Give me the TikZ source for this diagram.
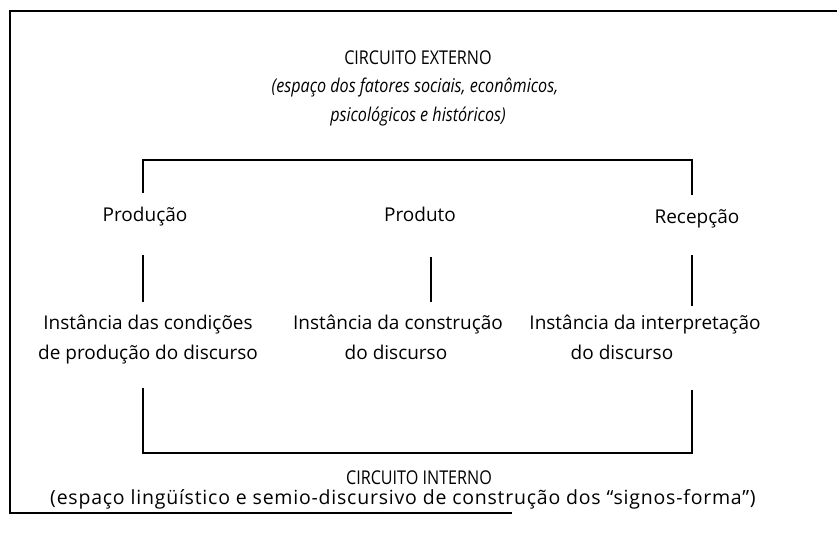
\documentclass[tikz,border=0pt]{standalone}
\usepackage{fontspec}
\setmainfont{Open Sans}
\begin{document}
\begin{tikzpicture}[x=1pt,y=-1pt,
  lbl/.style={font=\fontsize{19}{30}\selectfont, inner sep=0pt, anchor=base},
  caps/.style={lbl, font=\fontsize{19}{30}\selectfont\addfontfeature{FakeStretch=0.85}},
  ital/.style={lbl, font=\fontsize{19}{29}\selectfont\itshape\addfontfeature{FakeStretch=0.85}},
  ln/.style={line width=1.3pt}]
\useasboundingbox (0,0) rectangle (837,534);
% outer frame
\coordinate (otl) at (10,11);
\coordinate (otr) at (837,11);
\coordinate (obl) at (10,513);
\coordinate (obr) at (512,513);
\draw[ln] (otr) -- (otl) -- (obl) -- (obr);
% texts
\node[caps] (ext) at (418,65) {CIRCUITO EXTERNO};
\node[ital] (extsub1) at (415,93) {(espaço dos fatores sociais, econômicos,};
\node[ital] (extsub2) at (418,122) {psicológicos e históricos)};
\node[lbl] (prod) at (145,222) {Produção};
\node[lbl] (produto) at (420,222) {Produto};
\node[lbl] (rec) at (697,224) {Recepção};
\node[lbl] (i1a) at (148,329) {Instância das condições};
\node[lbl] (i1b) at (148,359) {de produção do discurso};
\node[lbl] (i2a) at (398,329) {Instância da construção};
\node[lbl] (i2b) at (396,359) {do discurso};
\node[lbl] (i3a) at (645,329) {Instância da interpretação};
\node[lbl] (i3b) at (622,359) {do discurso};
\node[caps] (int) at (419,484) {CIRCUITO INTERNO};
\node[lbl,font=\fontsize{19.5}{30}\selectfont\addfontfeature{LetterSpace=4}] (intsub) at (403,504) {(espaço lingüístico e semio-discursivo de construção dos “signos-forma”)};
% inner circuit
\coordinate (a1) at (143,193);
\coordinate (a0) at (143,160);
\coordinate (b0) at (692,160);
\coordinate (b1) at (692,195);
\draw[ln] (a1) -- (a0) -- (b0) -- (b1);
\coordinate (p1) at (143,255);
\coordinate (p2) at (143,302);
\draw[ln] (p1) -- (p2);
\coordinate (q1) at (431,257);
\coordinate (q2) at (431,302);
\draw[ln] (q1) -- (q2);
\coordinate (r1) at (692,255);
\coordinate (r2) at (692,306);
\draw[ln] (r1) -- (r2);
\coordinate (c1) at (143,388);
\coordinate (c0) at (143,453);
\coordinate (d0) at (692,453);
\coordinate (d1) at (692,390);
\draw[ln] (c1) -- (c0) -- (d0) -- (d1);
\end{tikzpicture}
\end{document}
